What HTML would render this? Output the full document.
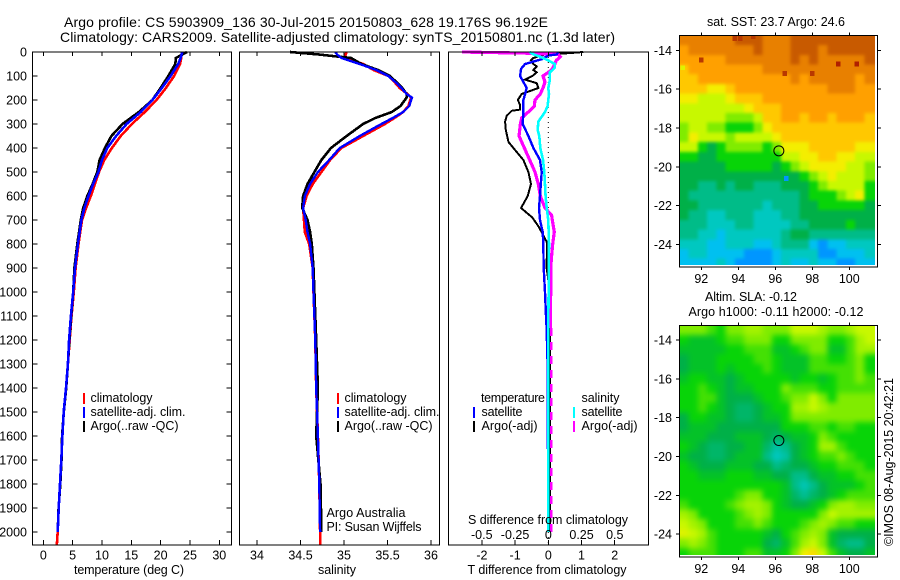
<!DOCTYPE html>
<html lang="en">
<head>
<meta charset="utf-8">
<title>Argo profile chart</title>
<style>
html,body{margin:0;padding:0;background:#fff;}
svg{display:block;}
text{font-family:"Liberation Sans",sans-serif;font-size:12.5px;fill:#000;}
.ttl{font-size:14px;}
.frame{fill:none;stroke:#000;stroke-width:1;shape-rendering:crispEdges;}
.tick{stroke:#000;stroke-width:1;shape-rendering:crispEdges;}
.curve{fill:none;shape-rendering:crispEdges;stroke-linejoin:miter;}
.key{shape-rendering:crispEdges;}
</style>
</head>
<body>
<svg id="chart" xmlns="http://www.w3.org/2000/svg" width="900" height="580" viewBox="0 0 900 580">
  <defs>
    <clipPath id="clip-m1"><rect x="679.5" y="35.5" width="195.5" height="229.5"/></clipPath>
    <clipPath id="clip-m2"><rect x="679.5" y="325.5" width="195.5" height="229.5"/></clipPath>
  </defs>
  <text class="ttl" x="64" y="27" textLength="484" lengthAdjust="spacing">Argo profile: CS 5903909_136 30-Jul-2015 20150803_628 19.176S 96.192E</text>
  <text class="ttl" x="60" y="42" textLength="555" lengthAdjust="spacing">Climatology: CARS2009. Satellite-adjusted climatology: synTS_20150801.nc (1.3d later)</text>

  <g id="p1"></g>
  <g id="p2"></g>
  <g id="p3"></g>
  <g id="m1"></g>
  <g id="m2"></g>

  <text x="129" y="574" text-anchor="middle" textLength="110" lengthAdjust="spacing">temperature (deg C)</text>
  <text x="337" y="574" text-anchor="middle" textLength="38" lengthAdjust="spacing">salinity</text>
  <text x="547" y="574" text-anchor="middle" textLength="159" lengthAdjust="spacing">T difference from climatology</text>
  <text x="548" y="524" text-anchor="middle" textLength="160" lengthAdjust="spacing">S difference from climatology</text>

  <g>
    <rect class="key" x="83" y="393" width="2" height="11" fill="#ff0000"/>
    <rect class="key" x="83" y="407" width="2" height="11" fill="#0000ff"/>
    <rect class="key" x="83" y="421" width="2" height="11" fill="#000000"/>
    <text x="90.5" y="402" textLength="62" lengthAdjust="spacing">climatology</text>
    <text x="90.5" y="416" textLength="95" lengthAdjust="spacing">satellite-adj. clim.</text>
    <text x="90.5" y="430" textLength="88" lengthAdjust="spacing">Argo(..raw -QC)</text>
  </g>
  <g>
    <rect class="key" x="337" y="393" width="2" height="11" fill="#ff0000"/>
    <rect class="key" x="337" y="407" width="2" height="11" fill="#0000ff"/>
    <rect class="key" x="337" y="421" width="2" height="11" fill="#000000"/>
    <text x="344.5" y="402" textLength="62" lengthAdjust="spacing">climatology</text>
    <text x="344.5" y="416" textLength="95" lengthAdjust="spacing">satellite-adj. clim.</text>
    <text x="344.5" y="430" textLength="88" lengthAdjust="spacing">Argo(..raw -QC)</text>
    <text x="326.5" y="517" textLength="79" lengthAdjust="spacing">Argo Australia</text>
    <text x="326.5" y="531" textLength="95" lengthAdjust="spacing">PI: Susan Wijffels</text>
  </g>
  <g>
    <text x="481" y="402" textLength="64" lengthAdjust="spacing">temperature</text>
    <rect class="key" x="473" y="407" width="2" height="11" fill="#0000ff"/>
    <rect class="key" x="473" y="421" width="2" height="11" fill="#000000"/>
    <text x="481.5" y="416" textLength="41" lengthAdjust="spacing">satellite</text>
    <text x="481.5" y="430" textLength="56" lengthAdjust="spacing">Argo(-adj)</text>
    <text x="581.5" y="402" textLength="38" lengthAdjust="spacing">salinity</text>
    <rect class="key" x="573" y="407" width="2" height="11" fill="#00ffff"/>
    <rect class="key" x="573" y="421" width="2" height="11" fill="#ff00ff"/>
    <text x="581.5" y="416" textLength="41" lengthAdjust="spacing">satellite</text>
    <text x="581.5" y="430" textLength="56" lengthAdjust="spacing">Argo(-adj)</text>
  </g>

  <text x="776" y="26" text-anchor="middle" textLength="138" lengthAdjust="spacing">sat. SST: 23.7  Argo: 24.6</text>
  <text x="751" y="301" text-anchor="middle" textLength="92" lengthAdjust="spacing">Altim. SLA: -0.12</text>
  <text x="776" y="316" text-anchor="middle" textLength="175" lengthAdjust="spacing">Argo h1000: -0.11 h2000: -0.12</text>
  <text transform="translate(893,546) rotate(-90)" textLength="168" lengthAdjust="spacing">©IMOS 08-Aug-2015 20:42:21</text>
</svg>

<script>
// ---- depth axis ----
const depthTicks = [0,100,200,300,400,500,600,700,800,900,1000,1100,1200,1300,1400,1500,1600,1700,1800,1900,2000];

// ---- temperature panel ----
const tempTicks = [0,5,10,15,20,25,30];
const tempDepth = [0,25,50,100,150,200,250,300,350,400,450,500,550,600,650,700,800,900,1000,1100,1200,1300,1400,1500,1600,1700,1800,1900,2000,2055];
const tempClim = [23.6,23.5,23.3,22.3,20.9,19.3,17.3,15.1,13.2,11.7,10.4,9.5,8.8,8.1,7.3,6.6,6.0,5.5,5.2,4.8,4.5,4.2,3.87,3.47,3.25,3.07,2.85,2.62,2.45,2.3];
const tempSat = [23.7,23.4,23.0,21.7,20.2,18.6,16.6,14.2,12.4,10.9,10.0,9.4,8.5,7.7,7.0,6.5,5.9,5.4,5.1,4.7,4.4,4.2,3.87,3.47,3.25,3.07,2.85,2.62,2.45];
const tempArgo = [24.5,22.6,22.5,21.3,20.0,18.6,16.3,13.5,11.6,10.5,9.6,9.2,8.4,7.5,6.8,6.4,5.8,5.3,5.1,4.75,4.45,4.2,3.9,3.5,3.2,3.1,2.9,2.6,2.45];

// ---- salinity panel ----
const salTicks = [34,34.5,35,35.5,36];
const salDepth = [0,10,25,50,75,100,125,150,175,190,225,250,275,300,350,400,450,500,550,600,650,700,750,800,900,1000,1200,1400,1600,1800,2000,2055];
const salClim = [35.03,35.02,35.01,35.22,35.34,35.51,35.58,35.64,35.73,35.77,35.74,35.68,35.58,35.47,35.22,34.97,34.84,34.74,34.64,34.57,34.53,34.54,34.55,34.60,34.64,34.65,34.67,34.68,34.70,34.716,34.725,34.725];
const salSat = [34.9,34.92,34.97,35.18,35.37,35.51,35.59,35.66,35.72,35.78,35.75,35.68,35.56,35.43,35.18,34.95,34.83,34.70,34.61,34.55,34.53,34.56,34.58,34.61,34.64,34.65,34.67,34.68,34.70,34.716,34.725];
const salArgo = [34.38,34.7,35.08,35.2,35.39,35.53,35.60,35.67,35.72,35.72,35.65,35.55,35.36,35.22,35.03,34.85,34.74,34.66,34.58,34.53,34.52,34.58,34.61,34.63,34.65,34.66,34.68,34.70,34.68,34.73,34.74];

// ---- difference panel ----
const tDiffTicks = [-2,-1,0,1,2];
const sDiffTicks = [-0.5,-0.25,0,0.25,0.5];
const sDiffLabels = ['-0.5','-0.25','0','0.25','0.5'];
const tSatDepth = [0,10,15,30,50,70,100,125,150,175,200,250,300,350,400,450,500,600,650,700,750,800,900,1000,1100,1150,1300,2000];
const tSatDiff = [0.3,0.25,0,-0.2,-0.7,-0.82,-0.85,-0.75,-0.65,-0.7,-0.75,-0.75,-0.77,-0.6,-0.45,-0.25,-0.2,-0.25,-0.28,-0.25,-0.17,-0.15,-0.14,-0.1,-0.07,-0.05,-0.02,0];
const tArgoDepth = [0,5,10,25,35,50,60,75,85,100,115,130,150,165,175,200,220,240,245,265,290,325,375,400,450,500,550,600,650,690,730,790,800,900,1000,2000];
const tArgoDiff = [1.05,0.6,-0.1,-0.45,-0.52,-0.45,-0.35,-0.45,-0.35,-0.48,-0.7,-0.35,-0.3,-0.6,-0.8,-0.92,-0.85,-0.85,-1.1,-1.25,-1.3,-1.28,-1.2,-1.05,-0.75,-0.6,-0.52,-0.62,-0.82,-0.48,-0.28,-0.05,-0.04,-0.05,0.05,0.05];
const sSatDepth = [0,10,20,35,50,65,85,115,150,175,225,250,290,325,350,400,450,500,600,650,700,800,1150,2000];
const sSatDiff = [-0.14,-0.11,-0.06,0,0.05,0.05,0.012,0.012,0,0.005,-0.005,-0.025,-0.075,-0.08,-0.068,-0.06,-0.04,-0.03,-0.02,-0.012,0,0.005,0,0];
const sArgoDepth = [0,5,10,20,35,50,75,100,125,150,175,200,225,250,275,300,350,400,450,500,550,600,650,680,700,750,800,850,900,1000,1150];
const sArgoDiff = [-0.65,-0.15,0.075,0.09,0.06,0.05,0.025,-0.04,-0.025,-0.04,-0.06,-0.1,-0.105,-0.15,-0.2,-0.21,-0.22,-0.18,-0.14,-0.1,-0.075,-0.06,-0.025,0.025,0.03,0.045,0.033,0.025,0.018,0.018,0.015];
const sArgoDeepDepth = [1150,2000];
const sArgoDeepDiff = [0.02,0.02];

// ---- maps ----
const lonTicks = [92,94,96,98,100];
const latTicks = [-14,-16,-18,-20,-22,-24];
const argoLon = 96.192;
const argoLat = -19.176;
const colourStops = ['#0096ff','#00c0f0','#00c8c0','#00bc88','#00b048','#08d408','#80ec00','#c8f800','#f4ee00','#ffc800','#ffa000','#e88000','#c85a00'];
const sstLevels = [
[11,11,11,11,11,11,12,12,12,11,11,11,12,12,12,12,12,12,12,12,12],
[10,11,11,11,11,11,11,11,12,11,11,11,12,12,12,11,12,12,12,12,12],
[10,10,10,10,10,11,11,11,11,11,11,11,12,11,12,11,11,11,11,11,12],
[9,10,10,10,10,10,10,10,10,11,11,11,11,11,11,11,11,11,11,11,11],
[9,9,10,10,10,10,10,10,10,10,10,10,11,10,11,11,11,11,11,10,11],
[9,9,9,8,8,9,10,10,10,10,10,10,10,10,10,10,11,11,11,10,10],
[8,8,7,7,7,8,9,9,9,10,10,10,10,10,10,10,10,10,10,10,10],
[7,7,7,7,7,7,7,8,9,9,9,10,10,10,10,10,10,10,10,10,10],
[7,7,7,7,7,6,6,6,7,9,9,10,10,9,10,10,9,10,10,10,9],
[6,7,7,6,6,5,5,5,6,8,9,9,9,9,9,9,9,9,9,9,9],
[6,8,7,7,7,6,7,7,7,7,8,9,9,9,9,9,9,9,9,9,9],
[7,7,5,4,5,6,6,6,6,5,6,8,8,8,9,9,9,9,9,8,8],
[5,5,4,4,5,5,5,5,5,5,5,7,7,8,8,9,9,8,8,7,7],
[4,4,4,4,4,5,5,5,5,5,4,5,6,7,8,8,8,8,7,7,6],
[4,4,4,4,4,4,4,4,4,4,4,4,4,5,6,7,8,7,7,7,6],
[4,4,3,3,4,3,4,4,3,3,3,4,4,4,5,6,7,7,7,7,5],
[4,3,3,3,3,3,3,3,3,3,3,3,3,4,5,5,5,6,7,8,5],
[4,4,3,3,3,3,3,3,3,2,3,3,3,4,4,5,5,5,5,5,4],
[4,3,3,2,2,3,3,3,2,2,2,3,3,4,4,4,4,4,4,4,4],
[3,3,3,2,2,2,3,3,2,2,2,2,3,3,4,4,4,4,5,4,4],
[3,3,2,2,1,2,2,2,2,2,2,3,4,4,3,3,3,3,3,3,3],
[2,2,2,1,1,2,2,2,1,1,2,3,3,3,1,0,1,1,2,2,2],
[1,2,2,1,1,1,1,0,0,0,1,2,2,2,2,0,0,1,1,1,2],
[1,1,1,1,2,1,0,0,0,0,1,2,1,1,2,1,1,0,0,1,1]
];
const sstSpeckLon = [93.8,94.1,94.8,99.4,100.4,96.5,98,92,91,96.6];
const sstSpeckLat = [-13.4,-13.4,-13.3,-14.7,-14.7,-15.2,-15.2,-14.5,-14.9,-20.6];
const sstSpeckLevel = [12.8,12.8,12.8,13,13,12.8,12.8,12.8,7.5,0];
const slaLevels = [
[6,6,6,5.5,5,6,6,6.5,6.5,6,6,6,7,7,7,6.5,6,6,6.5,7,7],
[5,4.5,4.5,4.5,5,5.5,5.5,6,6,6,5,5,6,6,6,6,5,5,5.5,6.5,7],
[4.5,4.5,4.5,4.5,4.5,5,5,5.5,5.5,5.5,4.5,4.5,5,5.5,6,6,4.5,4.5,5.5,6.5,6.5],
[4,4.5,4.5,4.5,5,5,5,5,5.5,5.5,5,4.5,4.5,4.5,5.5,5.5,5,5,5.5,6,5],
[4,4.5,4.5,4.5,5,4.5,5,5,5,5.5,5,4.5,4.5,4.5,5.5,5.5,5.5,5.5,5.5,6,5],
[4.5,5,5,4.5,4.5,4,4.5,5,5,5,5,5,4.5,5,5,4.5,5,5.5,5.5,6,5.5],
[5,5,5.5,5,4.5,4,4.5,4.5,5,5,5,6,5.5,5.5,5.5,5,5,5.5,5.5,5.5,5.5],
[5,5,5.5,5.5,4.5,4,4,4,4.5,5,5,5.5,6,6,7,6,5,6,6,6,6],
[5,5,5.5,5,4.5,4,3.5,3.5,4,4.5,5,5,6.5,6.5,7,6.5,6,6,6,6,6],
[4,5,5,4.5,4.5,4,3.5,3.5,4,4.5,4.5,5,6,6,6,6,6,6,6,6,6],
[4,4.5,4.5,4.5,4,4,4,4,4,4,4,5,5,5,5.5,5.5,5,5.5,5.5,5,5],
[4.5,4.5,4.5,4,4,4,4.5,4.5,4.5,4,3.5,4,4.5,4.5,5,6,5.5,5,5,5,5],
[5,4.5,4,3.5,3.5,4,4,4.5,4.5,3.5,2.5,3,4,4.5,5,6.5,6.5,5.5,5,5,5],
[4.5,4,4,3.5,3.5,4,4.5,4.5,4.5,3,2,2.5,4,4.5,5,5.5,5.5,6,5.5,5,5],
[5,4.5,4,4,4,4.5,4.5,4.5,4,4,3,3.5,4,4,4.5,5,5,5.5,5.5,5.5,5],
[5,5,4.5,4.5,4.5,5,5,5,4.5,4.5,4,4,3,3,4,4.5,4.5,5,5,5.5,5.5],
[5,5,5,5,5,5,5,5,5,5,5,4.5,3,2.2,3,4,4.5,4.5,4.5,5,5.5],
[5,5,5,5,5,5,5.5,6,6,5,5,4.5,3.5,2.8,3.5,4,4.5,5,5.5,5.5,5.5],
[5.5,5,5,5,5,5.5,6,6.5,6.5,6,5,4.5,4,4,4.5,5,6,6.5,6.5,6,6],
[6.5,6,5,5,5,5,5.5,6,6.5,6,5,5,5,5,5,6,7,6.5,6.5,6.5,6.5],
[7,6.5,6,5,5,5,5.5,5.5,6,5.5,5,5,5,5.5,6,6.5,6,5.5,5.5,5,5],
[7.5,7,6.5,5.5,5,5,5,5,5,4.5,4,5,5.5,6,6.5,6,4.5,4,4,4,4],
[6,6.5,6,5.5,5,5,5,5,5,4,3.5,4.5,5.5,6.5,7,6,4.5,3.5,3,3,4],
[5,5.5,5.5,5.5,5,5,5,5.5,5.5,4.5,4.5,5,6,8,8.5,7,5.5,4.5,4,4,4.5]
];

const NS = 'http://www.w3.org/2000/svg';
function mk(tag, attrs, parent, txt){
  const e = document.createElementNS(NS, tag);
  for (const k in attrs) e.setAttribute(k, attrs[k]);
  if (txt !== undefined) e.textContent = txt;
  parent.appendChild(e);
  return e;
}
function tickLine(parent, x1, y1, x2, y2){
  const l = mk('line', {class:'tick', x1:x1, y1:y1, x2:x2, y2:y2}, parent);
  
  
}
function tickText(parent, x, y, anchor, s){
  const t = mk('text', {x:x, y:y, 'text-anchor':anchor}, parent, s);
  
  
}
function curve(parent, name, color, width, depths, vals, xFn, dash){
  const pts = [];
  const n = Math.min(depths.length, vals.length);
  for (let i = 0; i < n; i++) pts.push(xFn(vals[i]).toFixed(1) + ',' + yDepth(depths[i]).toFixed(1));
  const attrs = {class:'curve', points:pts.join(' '), stroke:color, 'stroke-width':width};
  if (dash) attrs['stroke-dasharray'] = dash;
  const p = mk('polyline', attrs, parent);
  
  
}
function frame(parent, x, y, w, h){
  const r = mk('rect', {class:'frame', x:x, y:y, width:w, height:h}, parent);
  
  
}

// depth axis function
function yDepth(d){ return 52 + 0.24 * d; }
const PTOP = 52, PBOT = 545;

// panel 1
const xTemp = v => 43.3 + 5.867 * v;
const p1 = document.getElementById('p1');
curve(p1, 'temperature-climatology-line', '#ff0000', 2.6, tempDepth, tempClim, xTemp);
curve(p1, 'temperature-argo-line', '#000000', 2.6, tempDepth, tempArgo, xTemp);
curve(p1, 'temperature-satellite-line', '#0000ff', 2.6, tempDepth, tempSat, xTemp);
frame(p1, 32.5, PTOP, 199, PBOT - PTOP);
depthTicks.forEach(d => {
  tickLine(p1, 32.5, yDepth(d), 37.5, yDepth(d));
  tickLine(p1, 231.5, yDepth(d), 226.5, yDepth(d));
  tickText(p1, 27, yDepth(d) + 4.5, 'end', String(d));
});
tempTicks.forEach(v => {
  tickLine(p1, xTemp(v), PTOP, xTemp(v), PTOP + 4);
  tickLine(p1, xTemp(v), PBOT, xTemp(v), PBOT - 5);
  tickText(p1, xTemp(v), 559.5, 'middle', String(v));
});

// panel 2
const xSal = v => 257 + 87 * (v - 34);
const p2 = document.getElementById('p2');
curve(p2, 'salinity-climatology-line', '#ff0000', 2.6, salDepth, salClim, xSal);
curve(p2, 'salinity-argo-line', '#000000', 2.6, salDepth, salArgo, xSal);
curve(p2, 'salinity-satellite-line', '#0000ff', 2.4, salDepth, salSat, xSal);
frame(p2, 239.5, PTOP, 200, PBOT - PTOP);
salTicks.forEach(v => {
  tickLine(p2, xSal(v), PTOP, xSal(v), PTOP + 4);
  tickLine(p2, xSal(v), PBOT, xSal(v), PBOT - 5);
  tickText(p2, xSal(v), 559.5, 'middle', String(v));
});

// panel 3
const xT = v => 548.3 + 33.2 * v;
const xS = v => 548.3 + 133 * v;
const p3 = document.getElementById('p3');
const dotted = mk('line', {x1:xT(0), y1:PTOP, x2:xT(0), y2:PBOT, stroke:'#000', 'stroke-width':1, 'stroke-dasharray':'1 4'}, p3);


curve(p3, 't-diff-argo-line', '#000000', 2, tArgoDepth, tArgoDiff, xT);
curve(p3, 's-diff-argo-line', '#ff00ff', 3.2, sArgoDepth, sArgoDiff, xS);
curve(p3, 's-diff-argo-deep-line', '#ff00ff', 2.5, sArgoDeepDepth, sArgoDeepDiff, xS, '8 6');
curve(p3, 't-diff-satellite-line', '#0000ff', 2.4, tSatDepth, tSatDiff, xT);
curve(p3, 's-diff-satellite-line', '#00ffff', 2.6, sSatDepth, sSatDiff, xS);
frame(p3, 448.5, PTOP, 200, PBOT - PTOP);
tDiffTicks.forEach(v => {
  tickLine(p3, xT(v), PTOP, xT(v), PTOP + 4);
  tickLine(p3, xT(v), PBOT, xT(v), PBOT - 5);
  tickText(p3, xT(v), 559.5, 'middle', String(v));
});
sDiffTicks.forEach((v, i) => {
  tickText(p3, xS(v), 539, 'middle', sDiffLabels[i]);
});

// maps
function colourFor(level){
  const lo = Math.max(0, Math.min(colourStops.length - 1, Math.floor(level)));
  const hi = Math.min(colourStops.length - 1, lo + 1);
  const f = level - lo;
  const c = s => [1,3,5].map(i => parseInt(s.substr(i, 2), 16));
  const a = c(colourStops[lo]), b = c(colourStops[hi]);
  return 'rgb(' + a.map((v, i) => Math.round(v + (b[i] - v) * f)).join(',') + ')';
}
const LON0 = 90.81, LAT0 = -13.23, CELL = 0.5, BLEED = 14;
function speckColour(level){
  return level > 12.9 ? '#b02000' : level > 12 ? '#b83800' : colourFor(level);
}
function drawMap(id, levels, top, bottom, lat14, name, blurPx){
  const g = document.getElementById(id);
  const xLon = lon => 701.3 + 18.5 * (lon - 92);
  const yLat = lat => lat14 + 19.42 * (-14 - lat);
  const clipG = mk('g', {'clip-path':'url(#clip-' + id + ')'}, g);
  
  
  const blurG = mk('g', {style:'filter:blur(' + blurPx + 'px)'}, clipG);
  
  
  levels.forEach((row, r) => {
    row.forEach((lev, c) => {
      let x0 = xLon(LON0 + c * CELL), x1 = xLon(LON0 + (c + 1) * CELL);
      let y0 = yLat(LAT0 - r * CELL), y1 = yLat(LAT0 - (r + 1) * CELL);
      if (c === 0) x0 -= BLEED;
      if (c === row.length - 1) x1 += BLEED;
      if (r === 0) y0 -= BLEED;
      if (r === levels.length - 1) y1 += BLEED;
      const cell = mk('rect', {x:x0, y:y0, width:x1 - x0 + 0.5, height:y1 - y0 + 0.5, fill:colourFor(lev), 'shape-rendering':'crispEdges'}, blurG);
      
      
    });
  });
  if (name === 'sst') {
    sstSpeckLon.forEach((lon, i) => {
      const s = mk('rect', {x:xLon(lon) - 2.3, y:yLat(sstSpeckLat[i]) - 2.4, width:4.6, height:4.8, fill:speckColour(sstSpeckLevel[i]), 'shape-rendering':'crispEdges'}, clipG);
      
      
    });
  }
  frame(g, 679.5, top + 0.5, 198, bottom - top);
  lonTicks.forEach(v => {
    tickLine(g, xLon(v), top + 0.5, xLon(v), top - 2.5);
    tickLine(g, xLon(v), bottom + 0.5, xLon(v), bottom + 3.5);
    tickText(g, xLon(v), bottom + 16.5, 'middle', String(v));
  });
  latTicks.forEach(v => {
    tickLine(g, 679.5, yLat(v), 676, yLat(v));
    tickLine(g, 877.5, yLat(v), 881, yLat(v));
    tickText(g, 672, yLat(v) + 4.5, 'end', String(v));
  });
  const mark = mk('circle', {cx:xLon(argoLon), cy:yLat(argoLat), r:5, fill:'none', stroke:'#000', 'stroke-width':1}, g);
  
  
}
drawMap('m1', sstLevels, 35, 266.5, 50.3, 'sst', 1.5);
drawMap('m2', slaLevels, 325, 556.5, 340, 'sla', 3);
</script>
</body>
</html>
